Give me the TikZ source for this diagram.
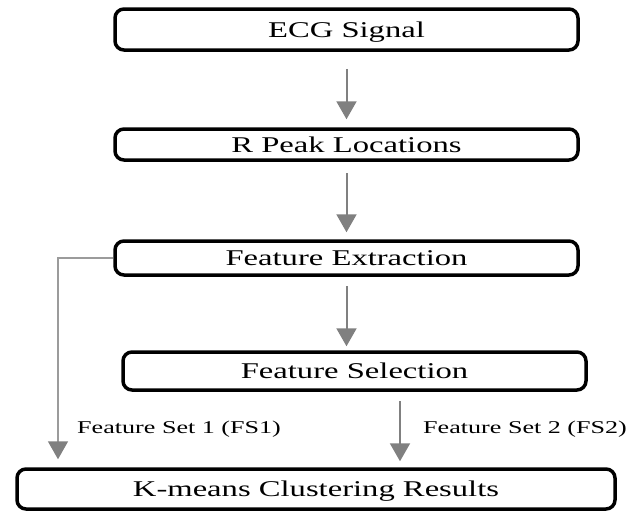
\documentclass[tikz,border=0pt]{standalone}
\usepackage{fontspec}
\usepackage{graphicx}
\setmainfont{Liberation Serif}
\usetikzlibrary{arrows.meta}

\definecolor{arrowgray}{RGB}{128,128,128}
\definecolor{linkgray}{RGB}{155,155,155}

% wide lettering used throughout the flowchart
\newcommand{\hstretch}[1]{\scalebox{1.45}[1]{#1}}

\tikzset{
  stage/.style={draw=black, line width=3.5pt, rounded corners=9pt, fill=white,
    inner sep=0pt, text depth=0pt, font=\fontsize{22.5}{27}\selectfont},
  flow/.style={draw=arrowgray, line width=2pt,
    -{Triangle[width=20pt,length=18pt,color=arrowgray]}},
  link/.style={draw=linkgray, line width=1.6pt,
    -{Triangle[width=20pt,length=18pt,color=arrowgray]}},
  setlabel/.style={inner sep=0pt, anchor=base west,
    font=\fontsize{18}{22}\selectfont},
}

\begin{document}
\begin{tikzpicture}[x=1pt,y=-1pt]
\useasboundingbox[fill=white] (0,0) rectangle (642,514);

% processing stages
\node[stage, minimum width=463pt, minimum height=41pt] (ecg)    at (346.5,29.5) {\hstretch{ECG Signal}};
\node[stage, minimum width=463pt, minimum height=31pt] (rpeak)  at (346.5,144.5) {\hstretch{R Peak Locations}};
\node[stage, minimum width=463pt, minimum height=34pt] (ext)    at (346.5,258) {\hstretch{Feature Extraction}};
\node[stage, minimum width=463pt, minimum height=38pt] (sel)    at (354.5,371) {\hstretch{Feature Selection}};
\node[stage, minimum width=598pt, minimum height=40pt] (kmeans) at (316,489) {\hstretch{K-means Clustering Results}};

% main flow
\draw[flow, shorten <=17pt, shorten >=8pt] (ecg.south) -- (rpeak.north);
\draw[flow, shorten <=11.5pt, shorten >=7pt] (rpeak.south) -- (ext.north);
\draw[flow, shorten <=9.5pt, shorten >=4pt] (ext.south) -- (ext.south |- sel.north);

% feature set 2: selected features to clustering
\coordinate (fs2start) at ([xshift=45.5pt,yshift=-9.5pt]sel.south);
\draw[flow, shorten >=6pt] (fs2start) -- (fs2start |- kmeans.north);

% feature set 1: all extracted features to clustering
\coordinate (fs1bend) at (58,258);
\draw[link, shorten >=8pt] (ext.west) -- (fs1bend) -- (fs1bend |- kmeans.north);

% set labels
\node[setlabel] (fs1lab) at (77,433) {\hstretch{Feature Set 1 (FS1)}};
\node[setlabel] (fs2lab) at (423,433) {\hstretch{Feature Set 2 (FS2)}};
\end{tikzpicture}
\end{document}
